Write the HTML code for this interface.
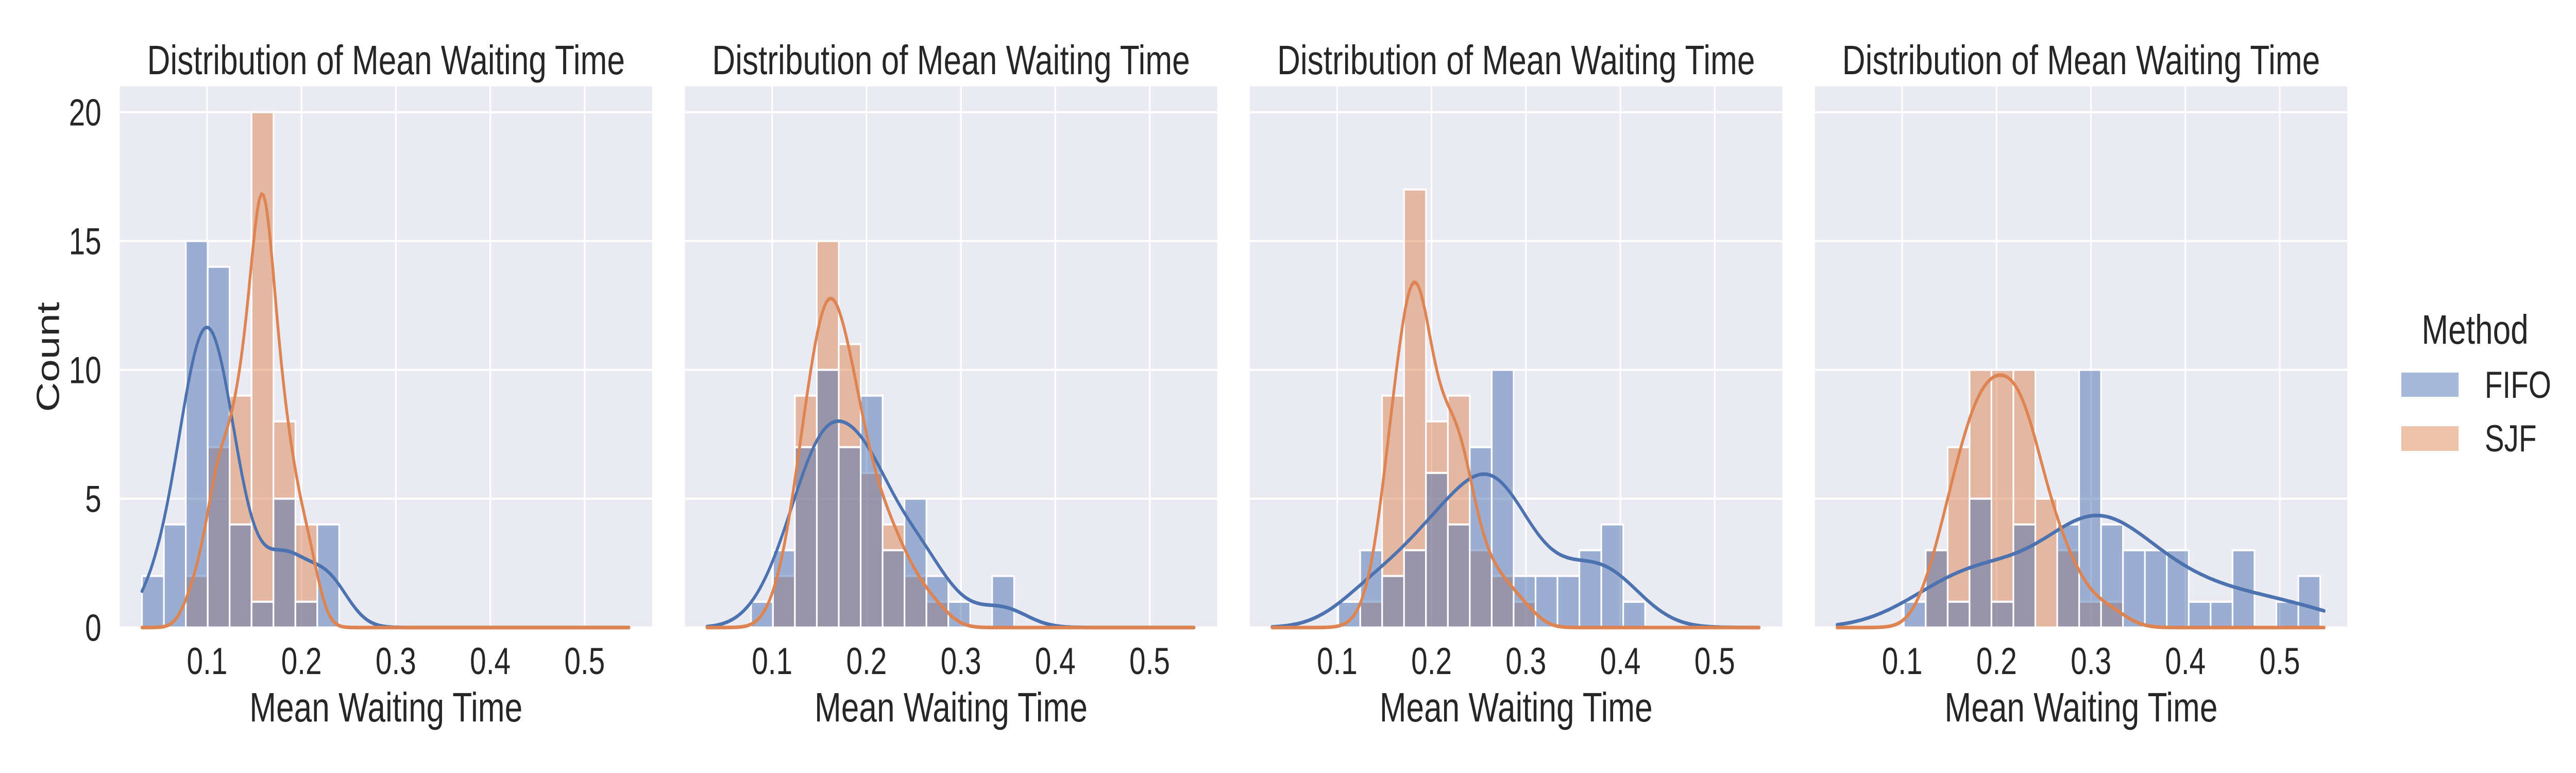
<!DOCTYPE html>
<html><head><meta charset="utf-8">
<style>
html,body{margin:0;padding:0;background:#fff;overflow:hidden;width:100%;height:100%;}
svg{display:block;width:100vw;height:100vh;}
text{font-family:"Liberation Sans",Arial,sans-serif;fill:#262626;}
</style></head>
<body>
<svg id="chart" xmlns="http://www.w3.org/2000/svg" viewBox="0 0 6430 1500" preserveAspectRatio="none">
<rect x="0" y="0" width="6430" height="1500" fill="#ffffff"/>
<g id="legend">
  <text x="6178" y="667" font-size="80" text-anchor="middle">Method</text>
  <rect x="5994" y="723" width="143" height="47" fill="#a6b9d9"/>
  <text x="6202" y="772" font-size="73">FIFO</text>
  <rect x="5994" y="827" width="143" height="48" fill="#ecc2a9"/>
  <text x="6202" y="876" font-size="73">SJF</text>
</g>
</svg>
<script>
// ---- data ----
const panelTitles = ["Distribution of Mean Waiting Time","Distribution of Mean Waiting Time","Distribution of Mean Waiting Time","Distribution of Mean Waiting Time"];
const binStarts = [0.031, 0.0777, 0.1012, 0.1017];
const binWidth = 0.02322;
const fifoP1 = [2,4,15,14,4,1,5,1,4];
const sjfP1  = [0,0,2,7,9,20,8,4,0];
const fifoP2 = [1,3,7,10,7,9,3,5,2,1,0,2];
const sjfP2  = [0,2,9,15,11,6,4,2,1,0,0,0];
const fifoP3 = [1,3,2,3,6,4,7,10,2,2,2,3,4,1];
const sjfP3  = [0,1,9,17,8,9,3,2,1,0,0,0,0,0];
const fifoP4 = [1,3,1,5,1,4,0,4,10,4,3,3,3,1,1,3,0,1,2];
const sjfP4  = [0,3,7,10,10,10,5,3,1,1,0,0,0,0,0,0,0,0,0];
const xTicks = [0.1,0.2,0.3,0.4,0.5];
const xTickLabels = ["0.1","0.2","0.3","0.4","0.5"];
const yTicks = [0,5,10,15,20];
const yTickLabels = ["0","5","10","15","20"];
const kdeRange = [0.031, 0.547];

const fifoAll = [fifoP1,fifoP2,fifoP3,fifoP4];
const sjfAll = [sjfP1,sjfP2,sjfP3,sjfP4];

// ---- layout ----
const NS = "http://www.w3.org/2000/svg";
const svg = document.getElementById('chart');
const axW = 1329, axTop = 167.7, axBot = 1217.7;
const xMin = 0.0075, xMax = 0.0075 + 1329/2356, yMax = 21;
function panelLeft(i){ return 299 + i*1410.4; }
function xs(i, v){ return panelLeft(i) + (v - xMin)/(xMax - xMin)*axW; }
function ys(c){ return axBot - c/yMax*(axBot-axTop); }
function mk(tag, attrs, parent){
  const e = document.createElementNS(NS, tag);
  for (const k in attrs) e.setAttribute(k, attrs[k]);
  (parent||svg).appendChild(e);
  return e;
}
function kde(counts, start){
  const pts = [];
  let n=0, s=0, s2=0;
  counts.forEach((c,k)=>{ const m = start + (k+0.5)*binWidth; n+=c; s+=c*m; s2+=c*m*m; });
  const mean = s/n;
  let v = (s2/n - mean*mean) * n/(n-1) - binWidth*binWidth/12;
  const sd = Math.sqrt(Math.max(v, 1e-6));
  const bw = sd * Math.pow(n, -0.2);
  const N = 220;
  for (let j=0;j<=N;j++){
    const x = kdeRange[0] + (kdeRange[1]-kdeRange[0])*j/N;
    let d = 0;
    counts.forEach((c,k)=>{ if(!c) return; const m = start + (k+0.5)*binWidth; const z=(x-m)/bw; d += c*Math.exp(-0.5*z*z); });
    d = d/(n*bw*Math.sqrt(2*Math.PI));
    pts.push([x, d*n*binWidth]);
  }
  return pts;
}

const legend = document.getElementById('legend');
for (let i=0;i<4;i++){
  const g = mk('g', {});
  
  
  const L = panelLeft(i);
  const bg = mk('rect', {x:L, y:axTop, width:axW, height:axBot-axTop, fill:'#eaeaf2'}, g);
  
  
  yTicks.forEach((t)=>{
    const ln = mk('line', {x1:L, x2:L+axW, y1:ys(t), y2:ys(t), stroke:'#fff', 'stroke-width':4}, g);
    
    
  });
  xTicks.forEach((t,k)=>{
    const ln = mk('line', {x1:xs(i,t), x2:xs(i,t), y1:axTop, y2:axBot, stroke:'#fff', 'stroke-width':4}, g);
    
    
    const tl = mk('text', {x:xs(i,t), y:1308, 'font-size':73, 'text-anchor':'middle'}, g);
    tl.textContent = xTickLabels[k];
    
    
  });
  if (i===0){
    yTicks.forEach((t,k)=>{
      const tl = mk('text', {x:253, y:ys(t)+26, 'font-size':73, 'text-anchor':'end'}, g);
      tl.textContent = yTickLabels[k];
      
      
    });
    const yl = mk('text', {x:0, y:0, 'font-size':80, 'text-anchor':'middle', transform:'translate(147,'+((axTop+axBot)/2)+') rotate(-90)'}, g);
    yl.textContent = 'Count';
    
    
  }
  const series = [[sjfAll[i], '#dd8452', 'bar-sjf'], [fifoAll[i], '#4c72b0', 'bar-fifo']];
  series.forEach(([vals, col, nm])=>{
    vals.forEach((c,k)=>{
      if (!c) return;
      const x0 = xs(i, binStarts[i] + k*binWidth), x1 = xs(i, binStarts[i] + (k+1)*binWidth);
      const r = mk('rect', {x:x0, y:ys(c), width:x1-x0, height:axBot-ys(c), fill:col, 'fill-opacity':0.5, stroke:'#fff', 'stroke-width':4}, g);
      
      
    });
  });
  [[fifoAll[i], '#4c72b0', 'kde-fifo'], [sjfAll[i], '#dd8452', 'kde-sjf']].forEach(([vals,col,nm])=>{
    const pts = kde(vals, binStarts[i]);
    const d = pts.map((p,j)=>(j?'L':'M')+xs(i,p[0]).toFixed(1)+','+ys(p[1]).toFixed(1)).join(' ');
    const p = mk('path', {d:d, fill:'none', stroke:col, 'stroke-width':7, 'stroke-linecap':'round', 'stroke-linejoin':'round'}, g);
    
    
  });
  const tt = mk('text', {x:L+axW/2, y:144, 'font-size':80, 'text-anchor':'middle'}, g);
  tt.textContent = panelTitles[i];
  
  
  const xl = mk('text', {x:L+axW/2, y:1400, 'font-size':80, 'text-anchor':'middle'}, g);
  xl.textContent = 'Mean Waiting Time';
  
  
}
svg.appendChild(legend);
</script>
</body></html>
